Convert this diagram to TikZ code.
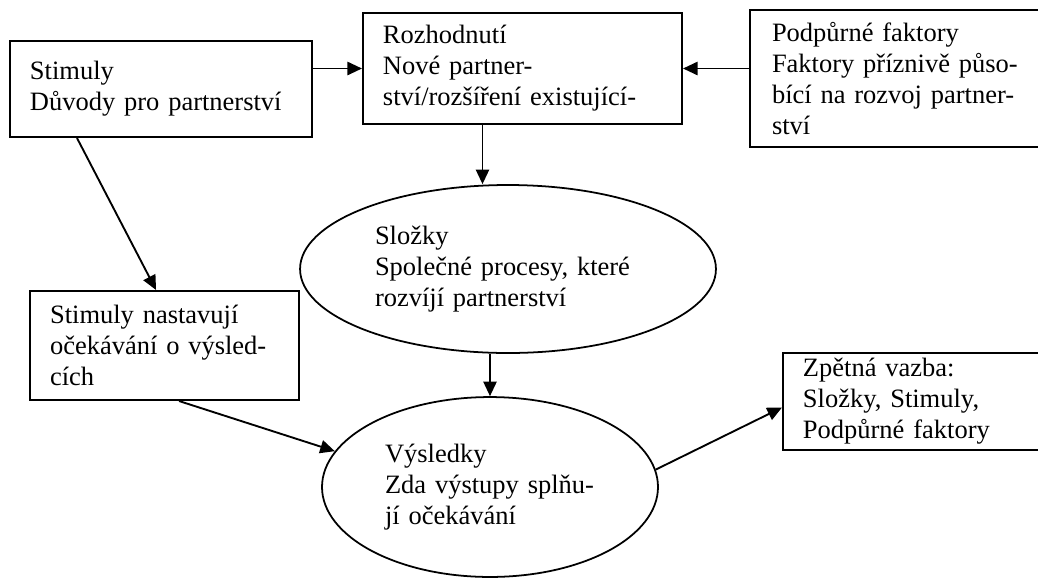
\documentclass[tikz,border=0pt]{standalone}
\usepackage{fontspec}
\setmainfont{Liberation Serif}
\usepackage{tikz}
\usetikzlibrary{arrows.meta,shapes.geometric,positioning,calc}

\begin{document}
\begin{tikzpicture}[
    x=0.453pt, y=-0.453pt,
    box/.style={draw, line width=0.9pt, rectangle, align=left, inner ysep=0pt, font=\fontsize{12}{14}\selectfont},
    oval/.style={draw, line width=0.8pt, ellipse, align=left, inner sep=0pt, font=\fontsize{12}{14}\selectfont},
    arr/.style={-{Triangle[length=6.6pt, width=6pt]}, line width=0.85pt}
]
\clip (0,0) rectangle (1038,578);
\node[box, inner xsep=9.06pt, text width=118.7pt, minimum height=43.5pt] (stim) at (161,89) {Stimuly\\Důvody pro partnerství};
\node[box, inner xsep=9.06pt, text width=126.4pt, minimum height=50.3pt] (roz) at (522.5,68.5) {Rozhodnutí\\Nové partner-\\ství/rozšíření existující-};
\node[box, inner xsep=9.97pt, text width=120.5pt, minimum height=62.1pt] (pod) at (905,78.5) {Podpůrné faktory\\Faktory příznivě půso-\\bící na rozvoj partner-\\ství};
\node[oval, text width=120.5pt, minimum width=188.4pt, minimum height=76.1pt] (slo) at (508,269) {Složky\\Společné procesy, které\\rozvíjí partnerství};
\node[box, inner xsep=9.06pt, text width=103.7pt, minimum height=49.4pt] (nast) at (164.5,345.5) {Stimuly nastavují\\očekávání o výsled-\\cích};
\node[oval, text width=95.1pt, minimum width=152.2pt, minimum height=81.5pt] (vys) at (490,487) {Výsledky\\Zda výstupy splňu-\\jí očekávání};
\node[box, inner xsep=9.06pt, text width=107.4pt, minimum height=43.9pt] (zpe) at (921.5,401.5) {Zpětná vazba:\\Složky, Stimuly,\\Podpůrné faktory};

\coordinate (rozout) at ($(roz.south)+(-40,0)$);
\coordinate (stimout) at ($(stim.south west)+(68,0)$);
\coordinate (nastin) at ($(nast.north west)+(127,0)$);
\coordinate (nastout) at ($(nast.south west)+(150,0)$);
\coordinate (zpein) at ($(zpe.west)+(0,6)$);

\draw[arr] (stim.east |- roz.west) -- (roz.west);
\draw[arr] (pod.west |- roz.east) -- (roz.east);
\draw[arr] (rozout) -- (rozout |- slo.north);
\draw[arr] (stimout) -- (nastin);
\draw[arr] (vys.north |- slo.south) -- (vys.north);
\draw[arr] (nastout) -- (vys.167);
\draw[arr] (vys.6) -- (zpein);
\end{tikzpicture}
\end{document}
